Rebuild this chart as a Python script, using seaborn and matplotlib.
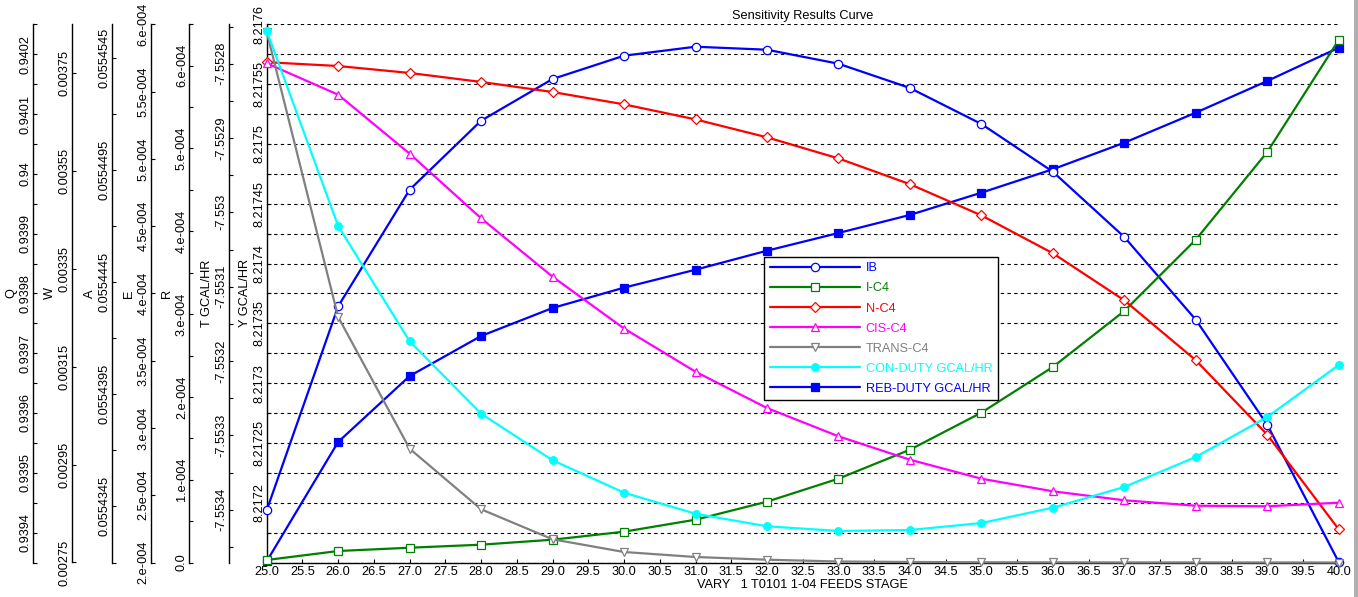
import numpy as np
import matplotlib
matplotlib.use('Agg')
import matplotlib.pyplot as plt
from matplotlib.ticker import FixedLocator, FuncFormatter
from matplotlib.patches import Rectangle
import seaborn as sns

# feed stage varied in the sensitivity block
stage = [25.0, 26.0, 27.0, 28.0, 29.0, 30.0, 31.0, 32.0,
         33.0, 34.0, 35.0, 36.0, 37.0, 38.0, 39.0, 40.0]

ib = [0.9394373, 0.9397784, 0.9399734, 0.9400888, 0.9401585, 0.9401975, 0.9402125, 0.9402075,
      0.9401841, 0.9401435, 0.9400833, 0.9400035, 0.9398943, 0.9397560, 0.9395804, 0.9393508]
ic4 = [0.0027551, 0.0027735, 0.0027802, 0.0027864, 0.0027966, 0.0028130, 0.0028375, 0.0028743,
       0.0029213, 0.0029805, 0.0030562, 0.0031496, 0.0032640, 0.0034098, 0.0035890, 0.0038179]
nc4 = [0.05545431, 0.05545414, 0.05545383, 0.05545343, 0.05545298, 0.05545243, 0.05545176, 0.05545096,
       0.05545002, 0.05544887, 0.05544748, 0.05544579, 0.05544369, 0.05544102, 0.05543770, 0.05543348]
cisc4 = [5.7102e-4, 5.4768e-4, 5.0383e-4, 4.5582e-4, 4.1241e-4, 3.7391e-4, 3.4181e-4, 3.1483e-4,
         2.9380e-4, 2.7640e-4, 2.6228e-4, 2.5292e-4, 2.4623e-4, 2.4221e-4, 2.4177e-4, 2.4444e-4]
transc4 = [6.407e-4, 2.965e-4, 1.3744e-4, 6.425e-5, 2.802e-5, 1.268e-5, 6.64e-6, 3.38e-6,
           1.2e-6, 6e-7, 3e-7, 2e-7, 1e-7, 1e-7, 5e-8, 0.0]
con_duty = [-7.5527556, -7.5530183, -7.5531734, -7.5532708, -7.5533335, -7.5533771, -7.5534054, -7.5534223,
            -7.5534286, -7.5534273, -7.5534179, -7.5533973, -7.5533694, -7.5533291, -7.5532753, -7.5532053]
reb_duty = [8.2171510, 8.2172508, 8.2173059, 8.2173394, 8.2173628, 8.2173798, 8.2173948, 8.2174107,
            8.2174255, 8.2174406, 8.2174592, 8.2174788, 8.2175010, 8.2175261, 8.2175526, 8.2175804]

W, H = 1358, 597
left_px, right_px, top_px, bot_px = 266.7, 1338.7, 24.3, 562.5
FS = 9.2


def fmt_g(v, pos):
    return f'{v:g}'


def fmt_e(v, pos):
    if abs(v) < 1e-12:
        return '0.0'
    e = int(np.floor(np.log10(abs(v)) + 1e-9))
    m = round(v / 10 ** e, 3)
    ms = f'{int(m)}.' if m == int(m) else f'{m:g}'
    return f'{ms}e{e:+04d}'


def steps(a, b, s):
    return np.round(np.arange(a, b + s / 10, s), 10)


# axis letter, series, legend label, colour, marker, face, marker size, limits,
# major ticks, minor ticks, formatter, spine x in pixels
cfg = [
    ('Y GCAL/HR', reb_duty, 'REB-DUTY GCAL/HR', '#0000ff', 's', '#0000ff', 6.0, (8.21715, 8.2176),
     steps(8.2172, 8.2176, 0.00005), steps(8.21715, 8.2176, 0.000025), fmt_g, left_px),
    ('Q', ib, 'IB', '#0000ff', 'o', 'white', 6.0, (0.93935, 0.94025),
     steps(0.9394, 0.9402, 0.0001), steps(0.93935, 0.94025, 0.00005), fmt_g, 33.3),
    ('W', ic4, 'I-C4', '#008000', 's', 'white', 6.0, (0.00275, 0.00385),
     steps(0.00275, 0.00375, 0.0002), None, fmt_g, 72.3),
    ('A', nc4, 'N-C4', '#ff0000', 'D', 'white', 5.0, (0.055432, 0.055456),
     steps(0.0554345, 0.0554545, 0.000005), steps(0.055432, 0.055456, 0.0000025), fmt_g, 111.7),
    ('E', cisc4, 'CIS-C4', '#ff00ff', '^', 'white', 6.0, (2e-4, 6e-4),
     steps(2e-4, 6e-4, 0.5e-4), None, fmt_e, 150.7),
    ('R', transc4, 'TRANS-C4', '#808080', 'v', 'white', 6.0, (0.0, 6.5e-4),
     steps(0.0, 6e-4, 1e-4), steps(0.0, 6.5e-4, 0.5e-4), fmt_e, 189.3),
    ('T GCAL/HR', con_duty, 'CON-DUTY GCAL/HR', '#00ffff', 'o', '#00ffff', 5.5, (-7.553471, -7.552747),
     steps(-7.5534, -7.5528, 0.0001), steps(-7.55345, -7.55275, 0.00005), fmt_g, 228.7),
]

sns.set_style('ticks', {'axes.edgecolor': 'black', 'xtick.color': 'black', 'ytick.color': 'black',
                        'text.color': 'black', 'axes.labelcolor': 'black'})
plt.rcParams['font.family'] = ['Liberation Sans', 'DejaVu Sans']
plt.rcParams['font.size'] = FS
plt.rcParams['axes.unicode_minus'] = False

fig = plt.figure(figsize=(W / 100, H / 100), dpi=100)
ax = fig.add_axes([left_px / W, 1 - bot_px / H, (right_px - left_px) / W, (bot_px - top_px) / H])

handles = {}
for name, vals, lab, col, mk, face, ms, lim, majors, minors, fmt, sx in cfg:
    if name.startswith('Y'):
        a = ax
    else:
        a = ax.twinx()
        a.spines['left'].set_visible(True)
        a.spines['left'].set_position(('axes', (sx - left_px) / (right_px - left_px)))
        a.spines['bottom'].set_visible(False)
        a.yaxis.set_ticks_position('left')
        a.yaxis.set_label_position('left')
    a.spines['top'].set_visible(False)
    a.spines['right'].set_visible(False)
    a.spines['left'].set_linewidth(1.0)

    sns.lineplot(x=stage, y=vals, ax=a, color=col, marker=mk, markersize=ms,
                 markerfacecolor=face, markeredgecolor=col, markeredgewidth=0.9,
                 linewidth=1.6, label=lab, legend=False, clip_on=False)
    handles[lab] = a.lines[0]

    a.set_ylim(*lim)
    a.yaxis.set_major_locator(FixedLocator(majors))
    a.yaxis.set_major_formatter(FuncFormatter(fmt))
    if minors is not None:
        a.yaxis.set_minor_locator(FixedLocator(minors))
    a.tick_params(axis='y', which='both', direction='in', length=3, width=0.8,
                  pad=1, labelrotation=90, labelsize=FS)
    a.set_ylabel(name, fontsize=FS, labelpad=2)
    for t in a.get_yticklabels():
        t.set_va('center')

ax.set_xlim(25, 40)
ax.set_xticks(steps(25, 40, 0.5))
ax.xaxis.set_major_formatter(FuncFormatter(lambda v, p: f'{v:.1f}'))
ax.tick_params(axis='x', direction='in', length=3, width=0.8, pad=2.5, labelsize=FS)
ax.spines['bottom'].set_linewidth(1.0)
ax.yaxis.grid(True, which='both', linestyle=(0, (3, 3)), color='black', linewidth=0.8)
ax.set_xlabel('VARY   1 T0101 1-04 FEEDS STAGE', fontsize=FS, labelpad=1)
ax.set_title('Sensitivity Results Curve', fontsize=FS, pad=4)

order = ['IB', 'I-C4', 'N-C4', 'CIS-C4', 'TRANS-C4', 'CON-DUTY GCAL/HR', 'REB-DUTY GCAL/HR']
leg = fig.legend([handles[k] for k in order], order, loc='upper left',
                 bbox_to_anchor=(764 / W, 1 - 256.7 / H), borderaxespad=0,
                 frameon=True, fancybox=False, framealpha=1, edgecolor='black',
                 handlelength=7.1, handletextpad=0.4, borderpad=0.45, labelspacing=0.63,
                 labelcolor='linecolor', fontsize=FS, numpoints=1)
leg.get_frame().set_linewidth(1.0)

# grey window edge on the right
fig.add_artist(Rectangle((1354 / W, 0), 4 / W, 1, transform=fig.transFigure,
                         color='#b0b0b0', lw=0))

fig.savefig('out.png', dpi=100)
